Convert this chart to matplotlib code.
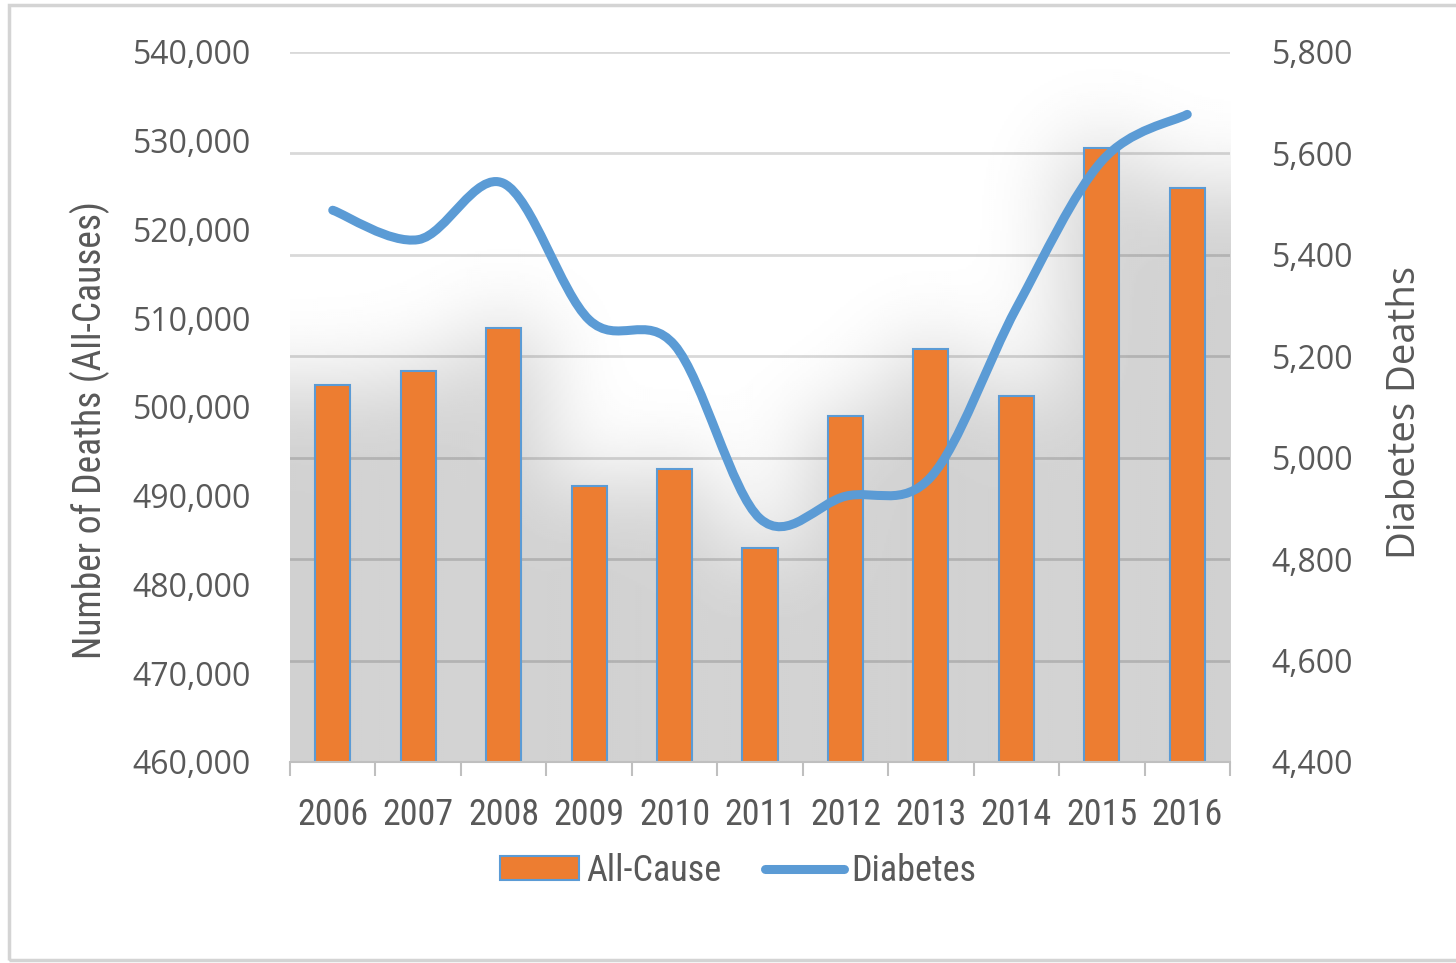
import numpy as np
import matplotlib
matplotlib.use("Agg")
import matplotlib.pyplot as plt
from matplotlib import font_manager
from matplotlib.path import Path
from matplotlib.patches import PathPatch, Rectangle
from matplotlib.lines import Line2D

# data
years = ['2006', '2007', '2008', '2009', '2010', '2011', '2012', '2013', '2014', '2015', '2016']
all_cause = [502500, 504000, 508850, 491100, 493000, 484100, 499000, 506500, 501250, 529200, 524700]
diabetes = [5488, 5430, 5541, 5272, 5222, 4880, 4924, 4962, 5295, 5585, 5677]

left_ticks = list(range(460000, 540001, 10000))
right_ticks = list(range(4400, 5801, 200))

ORANGE = '#ED7D31'
BLUE = '#5B9BD5'
TXT = '#595959'
HUMAN = ['Open Sans', 'DejaVu Sans']

# narrow font for years / legend / left label, if one is installed
installed = {f.name for f in font_manager.fontManager.ttflist}
narrow = None
for name in ['Liberation Sans Narrow', 'Roboto Condensed', 'Arial Narrow', 'Open Sans Condensed']:
    if name in installed:
        narrow = name
        break
if narrow:
    NARROW = [narrow, 'Liberation Sans']
    yr_size, lab_size = 26, 27
else:
    NARROW = ['Liberation Sans', 'DejaVu Sans']
    yr_size, lab_size = 22.5, 22.8


def smooth_path(xs, ys):
    # excel-like smoothed line: catmull-rom as cubic bezier
    pts = np.column_stack([xs, ys]).astype(float)
    ext = np.vstack([pts[0], pts, pts[-1]])
    verts = [pts[0]]
    codes = [Path.MOVETO]
    for i in range(len(pts) - 1):
        p0, p1, p2, p3 = ext[i], ext[i + 1], ext[i + 2], ext[i + 3]
        verts += [p1 + (p2 - p0) / 6.0, p2 - (p3 - p1) / 6.0, p2]
        codes += [Path.CURVE4] * 3
    return Path(verts, codes)


def blur(a, sigma):
    r = int(3 * sigma)
    k = np.exp(-0.5 * (np.arange(-r, r + 1) / sigma) ** 2)
    k /= k.sum()
    a = np.pad(a, ((r, r), (0, 0)), mode='edge')
    a = np.pad(a, ((0, 0), (r, r)), mode='reflect')
    a = np.apply_along_axis(lambda m: np.convolve(m, k, mode='same'), 0, a)
    a = np.apply_along_axis(lambda m: np.convolve(m, k, mode='same'), 1, a)
    return a[r:-r, r:-r]


fig = plt.figure(figsize=(14.56, 9.63), dpi=100)
ax = fig.add_axes([290 / 1456, 1 - 762 / 963, 940 / 1456, 710 / 963])
ax2 = ax.twinx()
ax.set_zorder(2)
ax.patch.set_visible(False)
ax2.set_zorder(1)

n = len(years)
x = np.arange(n)

# soft shadow behind the bars
nx, ny = 470, 355
xd = -0.5 + n * (np.arange(nx) + 0.5) / nx
yd = left_ticks[0] + (left_ticks[-1] - left_ticks[0]) * (np.arange(ny) + 0.5) / ny
mask = np.zeros((ny, nx))
for i, v in enumerate(all_cause):
    cols = np.abs(xd - i) < 0.4
    rows = yd < v
    mask[np.ix_(rows, cols)] = 1.0
shade = 1.0 - 0.22 * blur(mask, 21)
ax2.imshow(shade, cmap='gray', vmin=0, vmax=1, origin='lower', aspect='auto',
           extent=(-0.5, n - 0.5, right_ticks[0], right_ticks[-1]),
           interpolation='bilinear', zorder=0)

ax2.yaxis.grid(True, color='black', alpha=0.15, lw=2)
ax2.set_ylim(right_ticks[0], right_ticks[-1])
ax2.set_yticks(right_ticks)
ax2.set_yticklabels(['{:,}'.format(t) for t in right_ticks], fontfamily=HUMAN, fontsize=23, color=TXT)
ax2.tick_params(axis='y', length=0, pad=30)
for s in ax2.spines.values():
    s.set_visible(False)

bars = ax.bar(x, all_cause, width=0.41, color=ORANGE, edgecolor=BLUE, linewidth=1.5, zorder=2)
line = PathPatch(smooth_path(x, diabetes), facecolor='none', edgecolor=BLUE, lw=6.5,
                 capstyle='round', joinstyle='round', transform=ax2.transData, zorder=3)
ax.add_patch(line)

ax.set_xlim(-0.5, n - 0.5)
ax.set_ylim(left_ticks[0], left_ticks[-1])
ax.set_yticks(left_ticks)
ax.set_yticklabels(['{:,}'.format(t) for t in left_ticks], fontfamily=HUMAN, fontsize=23, color=TXT)
ax.tick_params(axis='y', length=0, pad=28)
ax.set_xticks(x)
ax.set_xticklabels(years, fontfamily=NARROW, fontsize=yr_size, color=TXT)
ax.set_xticks(np.arange(n + 1) - 0.5, minor=True)
ax.tick_params(axis='x', which='major', length=0, pad=25)
ax.tick_params(axis='x', which='minor', length=10, width=1.5, color='#bfbfbf')
for k in ['left', 'right', 'top']:
    ax.spines[k].set_visible(False)
ax.spines['bottom'].set_color('#bfbfbf')
ax.spines['bottom'].set_linewidth(1.5)

fig.text(90 / 1456, 1 - 430 / 963, 'Number of Deaths (All-Causes)', rotation=90,
         ha='center', va='center', fontfamily=NARROW, fontsize=lab_size, color=TXT)
fig.text(1405 / 1456, 1 - 412 / 963, 'Diabetes Deaths', rotation=90,
         ha='center', va='center', fontfamily=HUMAN, fontsize=27.5, color=TXT)

handles = [bars, Line2D([], [], color=BLUE, lw=6.5, solid_capstyle='round')]
fig.legend(handles, ['All-Cause', 'Diabetes'], loc='center', bbox_to_anchor=(738 / 1456, 1 - 871 / 963),
           ncol=2, frameon=False, handlelength=2.2, handleheight=0.65, handletextpad=0.2,
           columnspacing=1.2, prop={'family': NARROW, 'size': yr_size}, labelcolor=TXT)

# outer chart border
fig.patches.append(Rectangle((9 / 1456, 1 - 960 / 963), 1.1, 955 / 963, transform=fig.transFigure,
                             fill=False, ec='#d4d4d4', lw=2.5))

fig.savefig('out.png', dpi=100)
